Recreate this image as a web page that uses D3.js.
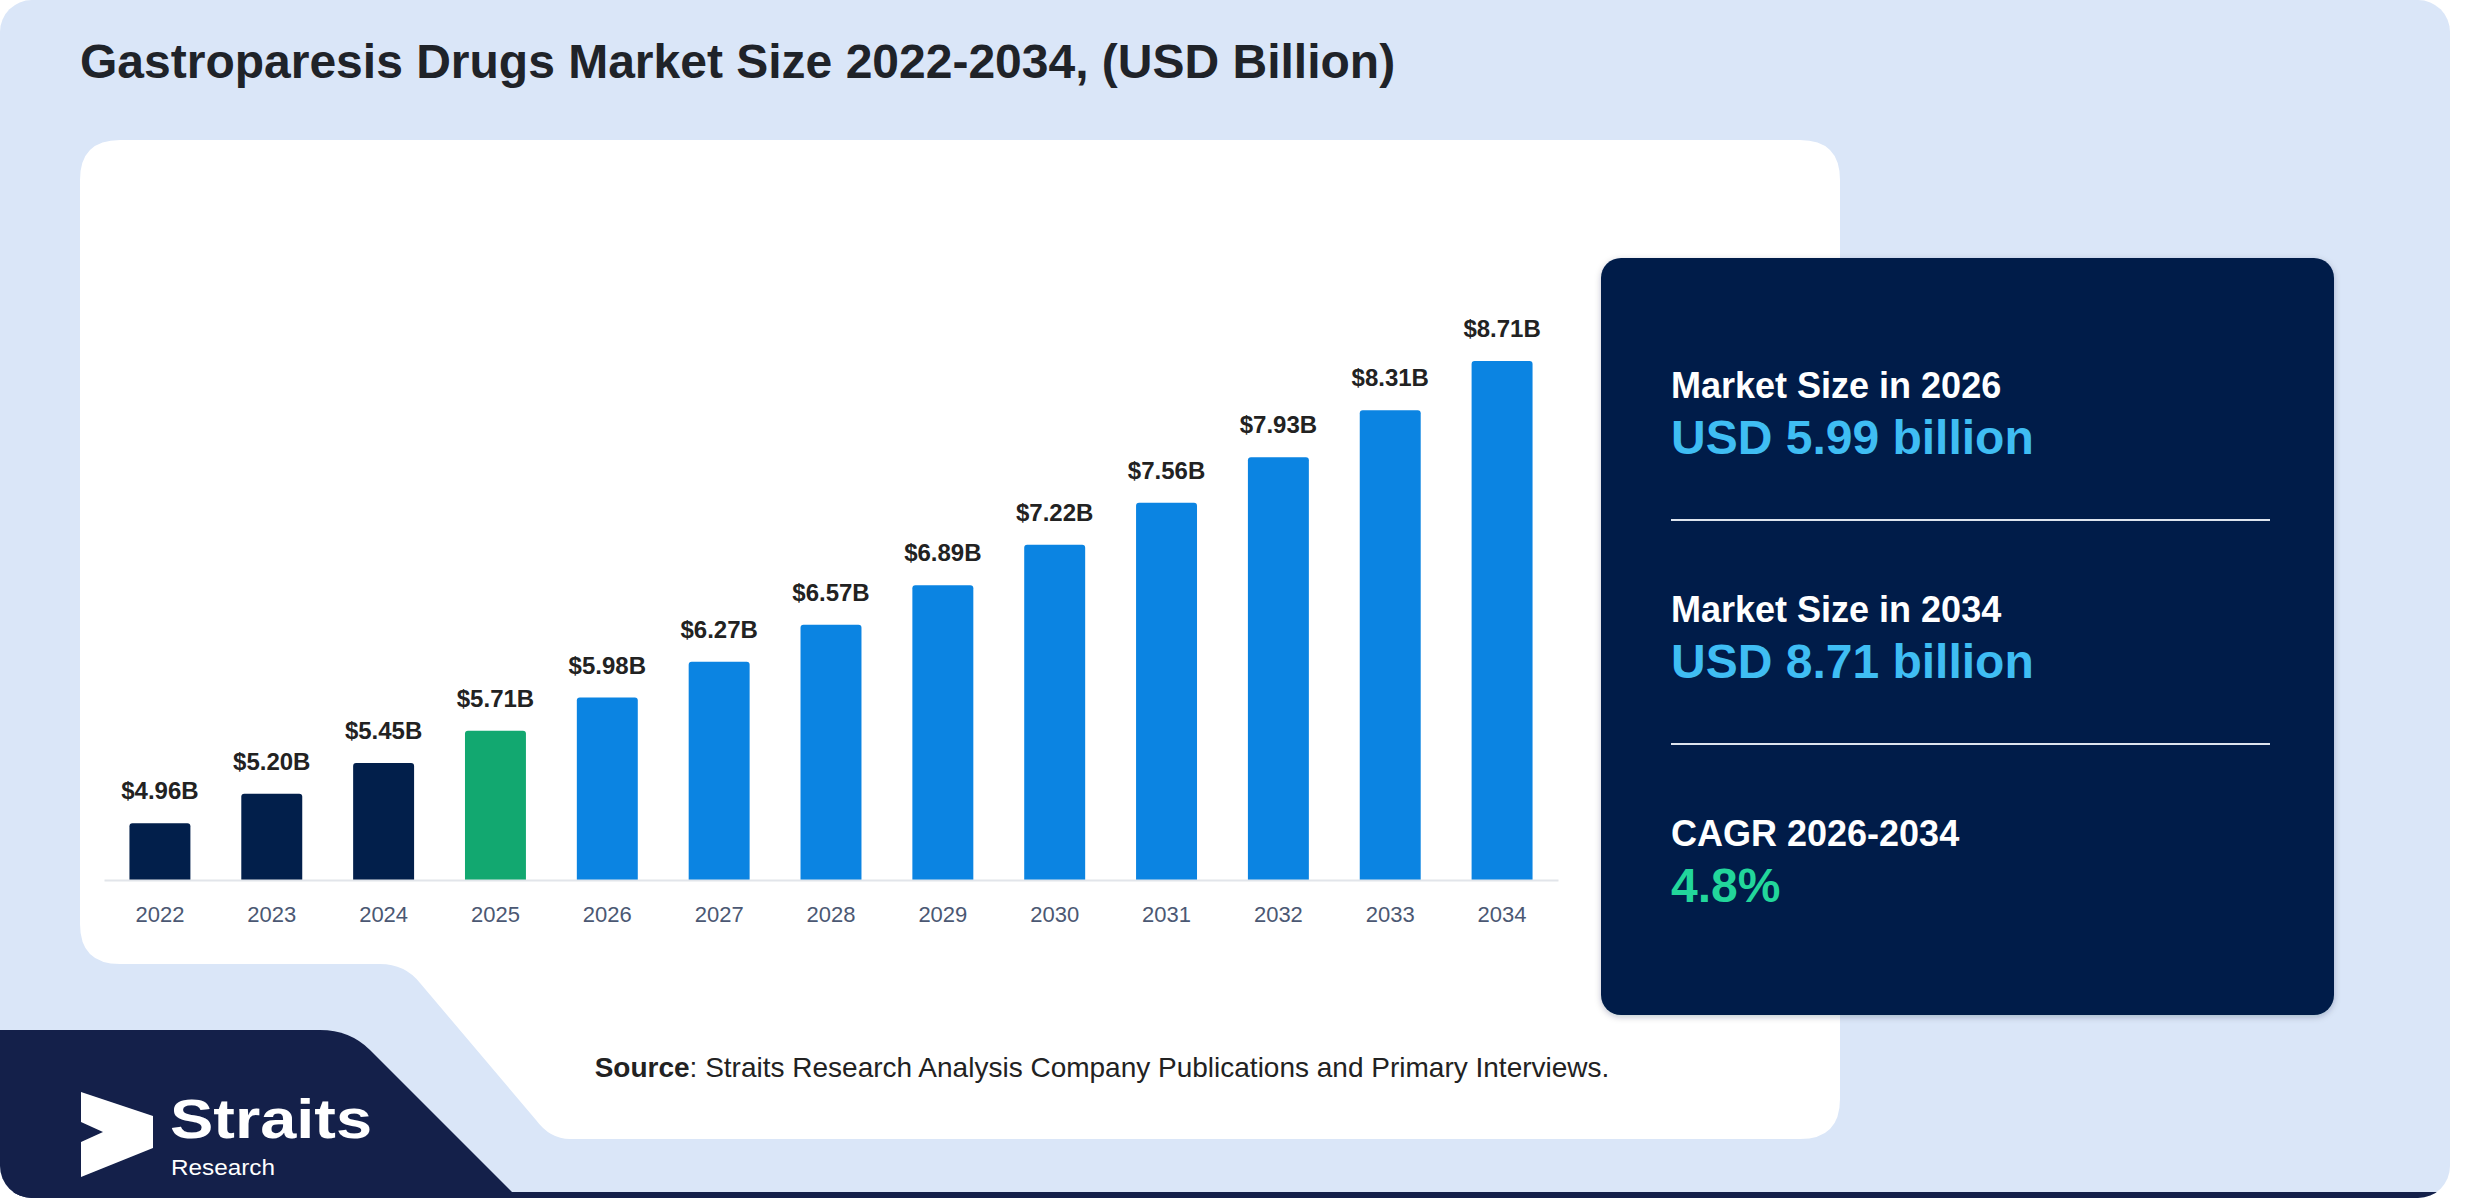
<!DOCTYPE html>
<html>
<head>
<meta charset="utf-8">
<script src="https://cdn.jsdelivr.net/npm/d3@7"></script>
<style>
  html, body { margin: 0; padding: 0; background: #ffffff; }
  svg { display: block; }
  text { font-family: "Liberation Sans", Arial, sans-serif; }
</style>
</head>
<body>
<svg></svg>
<script>
const title = 'Gastroparesis Drugs Market Size 2022-2034, (USD Billion)';
const years = ['2022', '2023', '2024', '2025', '2026', '2027', '2028', '2029', '2030', '2031', '2032', '2033', '2034'];
const marketValues = [4.96, 5.20, 5.45, 5.71, 5.98, 6.27, 6.57, 6.89, 7.22, 7.56, 7.93, 8.31, 8.71];
const summaryLabels = ['Market Size in 2026', 'Market Size in 2034', 'CAGR 2026-2034'];
const summaryValues = ['USD 5.99 billion', 'USD 8.71 billion', '4.8%'];
const baseYear = '2025';

const w = 2480;
const h = 1200;
let svg = d3.select('svg');
let xScale;
let yScale;

let drawCanvas = () => {
    svg.attr('width', w)
       .attr('height', h)

    let defs = svg.append('defs')
    defs.append('clipPath')
        .attr('id', 'outer')
        .append('rect')
        .attr('x', 0).attr('y', 0)
        .attr('width', 2450).attr('height', 1198)
        .attr('rx', 32)

    let shadow = defs.append('filter')
        .attr('id', 'shadow')
        .attr('x', '-5%').attr('y', '-5%')
        .attr('width', '110%').attr('height', '110%')
    shadow.append('feDropShadow')
        .attr('dx', 0).attr('dy', 2)
        .attr('stdDeviation', 3)
        .attr('flood-color', '#0a1a3a')
        .attr('flood-opacity', 0.25)

    let bg = svg.append('g').attr('clip-path', 'url(#outer)')

    bg.append('rect')
      .attr('width', 2450)
      .attr('height', 1198)
      .attr('fill', '#dae6f8')

    // dark strip along the bottom edge
    bg.append('rect')
      .attr('x', 0).attr('y', 1192)
      .attr('width', 2450).attr('height', 8)
      .attr('fill', '#14204a')

    // navy corner shape for the logo
    bg.append('path')
      .attr('d', 'M0,1030 L320,1030 Q350,1030 370,1050 L520,1200 L0,1200 Z')
      .attr('fill', '#14204a')

    // white chart panel with the notched bottom-left
    bg.append('path')
      .attr('d', 'M120,140 L1800,140 Q1840,140 1840,180 L1840,1099 Q1840,1139 1800,1139 ' +
                 'L570,1139 Q550,1139 536,1120 L420,983 Q405,964 380,964 L120,964 Q80,964 80,924 ' +
                 'L80,180 Q80,140 120,140 Z')
      .attr('fill', '#ffffff')

    svg.append('text')
       .attr('x', 80)
       .attr('y', 78)
       .attr('font-size', 48)
       .attr('font-weight', 'bold')
       .attr('fill', '#1f2329')
       .text(title)
}

let generateScales = () => {
    xScale = d3.scaleBand()
               .domain(years)
               .range([104, 1558])
               .paddingInner(0.455)
               .paddingOuter(0.2275)

    yScale = d3.scaleLinear()
               .domain([4.5, d3.max(marketValues)])
               .range([880, 361])
}

let barColor = (year) => {
    if (year < baseYear) return '#021f4b'
    if (year === baseYear) return '#12a870'
    return '#0b84e2'
}

let drawBars = () => {
    let data = years.map((y, i) => ({ year: y, value: marketValues[i] }))

    svg.append('g')
       .selectAll('path')
       .data(data)
       .enter()
       .append('path')
       .attr('class', 'bar')
       .attr('fill', (d) => barColor(d.year))
       .attr('d', (d) => {
           let x0 = xScale(d.year)
           let x1 = x0 + xScale.bandwidth()
           let top = yScale(d.value)
           let bottom = yScale(4.5)
           let r = 3
           return `M${x0},${bottom} L${x0},${top + r} Q${x0},${top} ${x0 + r},${top} ` +
                  `L${x1 - r},${top} Q${x1},${top} ${x1},${top + r} L${x1},${bottom} Z`
       })

    svg.append('g')
       .selectAll('text')
       .data(data)
       .enter()
       .append('text')
       .attr('x', (d) => xScale(d.year) + xScale.bandwidth() / 2)
       .attr('y', (d) => yScale(d.value) - 24)
       .attr('text-anchor', 'middle')
       .attr('font-size', 24)
       .attr('font-weight', 'bold')
       .attr('fill', '#222222')
       .text((d) => `$${d.value.toFixed(2)}B`)
}

let generateAxes = () => {
    let xAxis = d3.axisBottom(xScale)
                  .tickSize(0)
                  .tickSizeOuter(0)
                  .tickPadding(26)

    let g = svg.append('g')
               .attr('id', 'x-axis')
               .attr('transform', `translate(0, ${yScale(4.5)})`)
               .call(xAxis)

    g.select('.domain')
     .attr('stroke', '#e2e5ea')
     .attr('stroke-width', 2)

    g.selectAll('text')
     .attr('font-size', 22)
     .attr('font-family', '"Liberation Sans", Arial, sans-serif')
     .attr('fill', '#4b5873')
}

let drawSummary = () => {
    svg.append('rect')
       .attr('x', 1601)
       .attr('y', 258)
       .attr('width', 733)
       .attr('height', 757)
       .attr('rx', 20)
       .attr('fill', '#021f4a')
       .attr('filter', 'url(#shadow)')

    let rows = summaryLabels.map((l, i) => ({ label: l, value: summaryValues[i] }))
    let rowY = d3.scaleLinear().domain([0, 2]).range([398, 846])

    let g = svg.append('g')
    rows.forEach((r, i) => {
        g.append('text')
         .attr('x', 1671)
         .attr('y', rowY(i))
         .attr('font-size', 36)
         .attr('font-weight', 'bold')
         .attr('fill', '#ffffff')
         .text(r.label)
        g.append('text')
         .attr('x', 1671)
         .attr('y', rowY(i) + 56)
         .attr('font-size', 48)
         .attr('font-weight', 'bold')
         .attr('fill', i === 2 ? '#22d69b' : '#3fbdf3')
         .text(r.value)
        if (i < 2) {
            g.append('line')
             .attr('x1', 1671).attr('x2', 2270)
             .attr('y1', rowY(i) + 122).attr('y2', rowY(i) + 122)
             .attr('stroke', '#dde4ee')
             .attr('stroke-width', 2)
        }
    })
}

let drawFooter = () => {
    let src = svg.append('text')
                 .attr('x', 1102)
                 .attr('y', 1077)
                 .attr('text-anchor', 'middle')
                 .attr('font-size', 28)
                 .attr('fill', '#222222')
    src.append('tspan').attr('font-weight', 'bold').text('Source')
    src.append('tspan').text(': Straits Research Analysis Company Publications and Primary Interviews.')

    // logo mark
    svg.append('path')
       .attr('d', 'M81,1092 L153,1116 L153,1148 L81,1177 L81,1142 L103,1132 L81,1122 Z')
       .attr('fill', '#ffffff')

    svg.append('text')
       .attr('x', 170)
       .attr('y', 1138)
       .attr('font-family', '"Open Sans", "Noto Sans", sans-serif')
       .attr('font-size', 56)
       .attr('font-weight', 'bold')
       .attr('fill', '#ffffff')
       .attr('textLength', 202)
       .attr('lengthAdjust', 'spacingAndGlyphs')
       .text('Straits')

    svg.append('text')
       .attr('x', 171)
       .attr('y', 1175)
       .attr('font-family', '"Open Sans", "Noto Sans", sans-serif')
       .attr('font-size', 22)
       .attr('fill', '#ffffff')
       .attr('textLength', 104)
       .attr('lengthAdjust', 'spacingAndGlyphs')
       .text('Research')
}

drawCanvas()
generateScales()
drawBars()
generateAxes()
drawSummary()
drawFooter()
</script>
</body>
</html>
